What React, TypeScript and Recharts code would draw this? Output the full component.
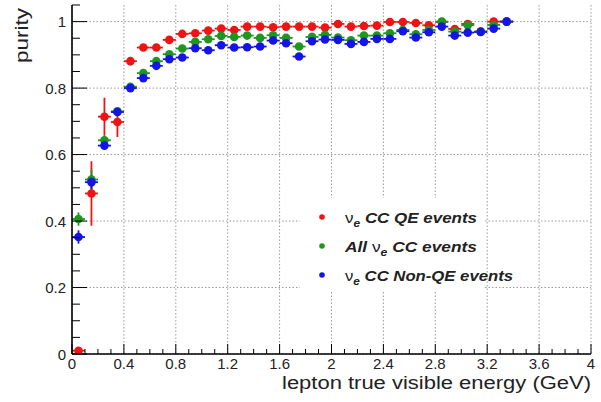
import React from 'react';
import { ScatterChart, Scatter, XAxis, YAxis, CartesianGrid, ErrorBar } from 'recharts';

// bin centres (GeV), 0.1 GeV wide bins
const binCenters = [
  0.05, 0.15, 0.25, 0.35, 0.45, 0.55, 0.65, 0.75, 0.85, 0.95,
  1.05, 1.15, 1.25, 1.35, 1.45, 1.55, 1.65, 1.75, 1.85, 1.95,
  2.05, 2.15, 2.25, 2.35, 2.45, 2.55, 2.65, 2.75, 2.85, 2.95,
  3.05, 3.15, 3.25, 3.35,
];
const binHalfWidth = 0.05;

const qePurity = [
  0.01, 0.483, 0.714, 0.698, 0.881, 0.922, 0.922, 0.945, 0.963, 0.965,
  0.973, 0.979, 0.975, 0.985, 0.985, 0.983, 0.985, 0.985, 0.985, 0.982,
  0.993, 0.985, 0.987, 0.988, 0.999, 0.999, 0.996, 0.989, 0.999, 0.978,
  0.993, 0.97, 1.0, 1.0,
];
const allPurity = [
  0.406, 0.525, 0.643, 0.73, 0.804, 0.845, 0.881, 0.902, 0.919, 0.939,
  0.947, 0.957, 0.954, 0.958, 0.951, 0.959, 0.951, 0.925, 0.954, 0.96,
  0.952, 0.944, 0.958, 0.958, 0.965, 0.975, 0.962, 0.975, 1.0, 0.97,
  0.989, 0.97, 0.99, 1.0,
];
const nonQePurity = [
  0.352, 0.517, 0.627, 0.728, 0.8, 0.83, 0.867, 0.887, 0.892, 0.92,
  0.914, 0.929, 0.922, 0.923, 0.925, 0.943, 0.935, 0.895, 0.941, 0.946,
  0.945, 0.933, 0.939, 0.948, 0.948, 0.971, 0.952, 0.968, 0.985, 0.958,
  0.967, 0.969, 0.979, 1.0,
];

const qeErr = [
  0.006, 0.097, 0.057, 0.045, 0.012, 0.008, 0.008, 0.006, 0.005, 0.005,
  0.005, 0.004, 0.004, 0.004, 0.004, 0.004, 0.004, 0.004, 0.004, 0.004,
  0.004, 0.004, 0.004, 0.004, 0.004, 0.004, 0.004, 0.004, 0.004, 0.004,
  0.004, 0.004, 0.004, 0.004,
];
const allErr = [
  0.02, 0.03, 0.015, 0.01, 0.008, 0.006, 0.005, 0.005, 0.005, 0.004,
  0.004, 0.004, 0.004, 0.004, 0.004, 0.004, 0.004, 0.004, 0.004, 0.004,
  0.004, 0.004, 0.004, 0.004, 0.004, 0.004, 0.004, 0.004, 0.004, 0.004,
  0.004, 0.004, 0.004, 0.004,
];
const nonQeErr = [
  0.02, 0.02, 0.01, 0.01, 0.008, 0.006, 0.005, 0.005, 0.005, 0.005,
  0.005, 0.004, 0.004, 0.004, 0.004, 0.004, 0.004, 0.008, 0.004, 0.004,
  0.004, 0.004, 0.004, 0.004, 0.004, 0.004, 0.004, 0.004, 0.004, 0.004,
  0.004, 0.004, 0.004, 0.004,
];

const xMajorTicks = [0, 0.4, 0.8, 1.2, 1.6, 2, 2.4, 2.8, 3.2, 3.6, 4];
const xTickLabels = ['0', '0.4', '0.8', '1.2', '1.6', '2', '2.4', '2.8', '3.2', '3.6', '4'];
const yMajorTicks = [0, 0.2, 0.4, 0.6, 0.8, 1];
const yTickLabels = ['0', '0.2', '0.4', '0.6', '0.8', '1'];

const xAllTicks: number[] = [];
for (let i = 0; i <= 40; i++) xAllTicks.push(Math.round(i * 10) / 100);
const yAllTicks: number[] = [];
for (let i = 0; i <= 21; i++) yAllTicks.push(Math.round(i * 5) / 100);

const RED = '#ee1414';
const GREEN = '#1f961f';
const BLUE = '#1414e6';
const FONT = '"Liberation Sans", Arial, Helvetica, sans-serif';
const MARGIN = 6;

const makeSeries = (ys: number[], errs: number[]) =>
  binCenters.map((x, i) => ({ x, y: ys[i], ex: binHalfWidth, ey: errs[i] }));

const qeData = makeSeries(qePurity, qeErr);
const allData = makeSeries(allPurity, allErr);
const nonQeData = makeSeries(nonQePurity, nonQeErr);

const findMajor = (v: number, majors: number[]) => majors.findIndex(m => Math.abs(m - v) < 1e-6);

const BottomTick = (props: any) => {
  const { x, y, payload } = props;
  const axisY = y - MARGIN;
  const idx = findMajor(payload.value, xMajorTicks);
  return (
    <g>
      <line x1={x} x2={x} y1={axisY} y2={axisY - (idx >= 0 ? 10 : 5)} stroke="#000" strokeWidth={1} />
      {idx >= 0 && (
        <text x={x} y={axisY + 15} textAnchor="middle" fontSize={15} fontFamily={FONT} fill="#222">
          {xTickLabels[idx]}
        </text>
      )}
    </g>
  );
};

const TopTick = (props: any) => {
  const { x, y, payload } = props;
  const axisY = y + MARGIN;
  const major = findMajor(payload.value, xMajorTicks) >= 0;
  return <line x1={x} x2={x} y1={axisY} y2={axisY + (major ? 10 : 5)} stroke="#000" strokeWidth={1} />;
};

const LeftTick = (props: any) => {
  const { x, y, payload } = props;
  const axisX = x + MARGIN;
  const idx = findMajor(payload.value, yMajorTicks);
  return (
    <g>
      <line x1={axisX} x2={axisX + (idx >= 0 ? 15 : 8)} y1={y} y2={y} stroke="#000" strokeWidth={1} />
      {idx >= 0 && (
        <text x={axisX - 6} y={y + 5.5} textAnchor="end" fontSize={15} fontFamily={FONT} fill="#222">
          {yTickLabels[idx]}
        </text>
      )}
    </g>
  );
};

const RightTick = (props: any) => {
  const { x, y, payload } = props;
  const axisX = x - MARGIN;
  const major = findMajor(payload.value, yMajorTicks) >= 0;
  return <line x1={axisX} x2={axisX - (major ? 15 : 8)} y1={y} y2={y} stroke="#000" strokeWidth={1} />;
};

const dot = (color: string) => (p: any) => <circle cx={p.cx} cy={p.cy} r={4.3} fill={color} />;

const legendRows = [
  { color: RED, pre: '', post: ' CC QE events', len: 132 },
  { color: GREEN, pre: 'All  ', post: ' CC events', len: 132 },
  { color: BLUE, pre: '', post: ' CC Non-QE events', len: 168 },
];

export default function App() {
  const axisLine = { stroke: '#000', strokeWidth: 1.6 };
  return (
    <div style={{ position: 'absolute', left: 0, top: 0, width: 601, height: 402, background: '#fff' }}>
      <ScatterChart width={601} height={402} margin={{ top: 5, right: 10, left: 12, bottom: 18 }}>
        <CartesianGrid
          horizontalValues={yMajorTicks}
          verticalValues={xMajorTicks}
          stroke="#9a9a9a"
          strokeDasharray="1.5 2"
        />
        <XAxis
          dataKey="x"
          type="number"
          domain={[0, 4]}
          ticks={xAllTicks}
          interval={0}
          height={30}
          tickSize={0}
          tickMargin={MARGIN}
          tickLine={false}
          axisLine={axisLine}
          tick={<BottomTick />}
          allowDataOverflow
        />
        <XAxis
          xAxisId="top"
          orientation="top"
          type="number"
          domain={[0, 4]}
          ticks={xAllTicks}
          interval={0}
          height={0}
          tickSize={0}
          tickMargin={MARGIN}
          tickLine={false}
          axisLine={axisLine}
          tick={<TopTick />}
          allowDataOverflow
        />
        <YAxis
          dataKey="y"
          type="number"
          domain={[0, 1.05]}
          ticks={yAllTicks}
          interval={0}
          width={60}
          tickSize={0}
          tickMargin={MARGIN}
          tickLine={false}
          axisLine={axisLine}
          tick={<LeftTick />}
          allowDataOverflow
        />
        <YAxis
          yAxisId="right"
          orientation="right"
          type="number"
          domain={[0, 1.05]}
          ticks={yAllTicks}
          interval={0}
          width={0}
          tickSize={0}
          tickMargin={MARGIN}
          tickLine={false}
          axisLine={axisLine}
          tick={<RightTick />}
          allowDataOverflow
        />
        <Scatter name="qe" data={qeData} fill={RED} shape={dot(RED)} isAnimationActive={false}>
          <ErrorBar dataKey="ex" direction="x" width={0} stroke={RED} strokeWidth={1.8} />
          <ErrorBar dataKey="ey" direction="y" width={0} stroke={RED} strokeWidth={1.8} />
        </Scatter>
        <Scatter name="all" data={allData} fill={GREEN} shape={dot(GREEN)} isAnimationActive={false}>
          <ErrorBar dataKey="ex" direction="x" width={0} stroke={GREEN} strokeWidth={1.8} />
          <ErrorBar dataKey="ey" direction="y" width={0} stroke={GREEN} strokeWidth={1.8} />
        </Scatter>
        <Scatter name="nonqe" data={nonQeData} fill={BLUE} shape={dot(BLUE)} isAnimationActive={false}>
          <ErrorBar dataKey="ex" direction="x" width={0} stroke={BLUE} strokeWidth={1.8} />
          <ErrorBar dataKey="ey" direction="y" width={0} stroke={BLUE} strokeWidth={1.8} />
        </Scatter>
      </ScatterChart>
      <svg
        width={601}
        height={402}
        style={{ position: 'absolute', left: 0, top: 0, pointerEvents: 'none' }}
      >
        <text
          transform="translate(27.5,8) rotate(-90)"
          textAnchor="end"
          fontSize={19}
          fontFamily={FONT}
          fill="#222"
          textLength={55}
          lengthAdjust="spacingAndGlyphs"
        >
          purity
        </text>
        <text
          x={591}
          y={389}
          textAnchor="end"
          fontSize={18}
          fontFamily={FONT}
          fill="#222"
          textLength={309}
          lengthAdjust="spacingAndGlyphs"
        >
          lepton true visible energy (GeV)
        </text>
        <rect x={300} y={198} width={183} height={93} fill="#fff" />
        {legendRows.map((row, i) => {
          const cy = 217 + i * 29;
          return (
            <g key={i}>
              <circle cx={322} cy={cy} r={2.8} fill={row.color} />
              <text
                x={345}
                y={cy + 5.5}
                fontSize={15.5}
                fontFamily={FONT}
                fill="#222"
                textLength={row.len}
                lengthAdjust="spacingAndGlyphs"
              >
                {row.pre && (
                  <tspan fontWeight="bold" fontStyle="italic">{row.pre}</tspan>
                )}
                <tspan>ν</tspan>
                <tspan fontSize={11} fontWeight="bold" fontStyle="italic" dy={4}>e</tspan>
                <tspan fontWeight="bold" fontStyle="italic" dy={-4}>{row.post}</tspan>
              </text>
            </g>
          );
        })}
      </svg>
    </div>
  );
}
